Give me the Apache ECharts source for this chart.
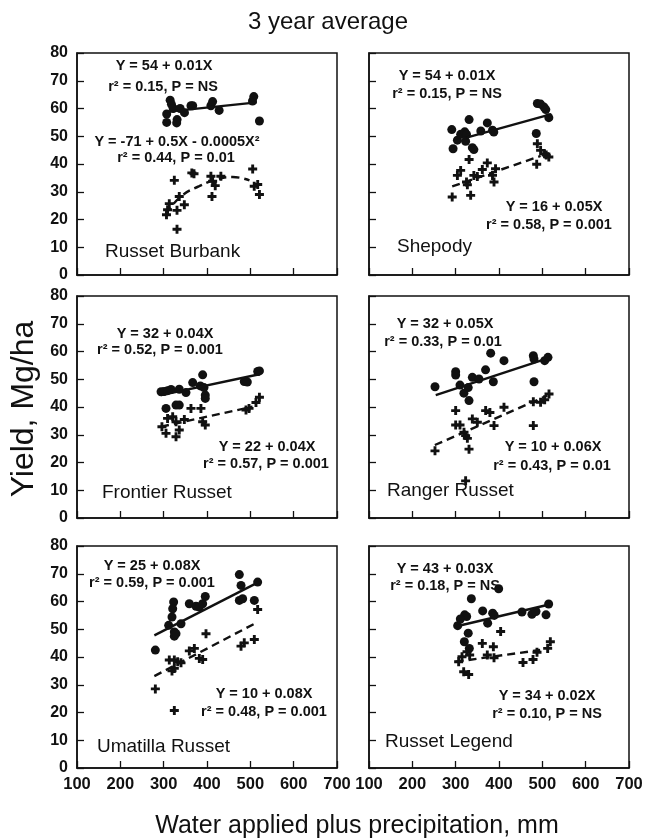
<!DOCTYPE html>
<html>
<head>
<meta charset="utf-8">
<title>3 year average</title>
<script src="https://cdn.jsdelivr.net/npm/echarts@6/dist/echarts.min.js"></script>
<style>
html, body { margin: 0; padding: 0; background: #fff; }
#main { width: 647px; height: 840px; }
</style>
</head>
<body>
<div id="main"></div>
<script>
// axis ticks
var xTicks = [100, 200, 300, 400, 500, 600, 700];
var yTicks = [0, 10, 20, 30, 40, 50, 60, 70, 80];

// Russet Burbank
var burbankDots = [[307,58],[307,55],[315,63],[318,61.5],[322,60],[331,56],[330,54.8],[338,60],[348,58.5],[363,61],[367,61],[409,61],[413,62.5],[428,59.3],[505,62.7],[508,64.3],[521,55.5]];
var burbankCross = [[306.5,21.7],[309,23.5],[313,25.7],[324.6,34.1],[330.8,23.3],[330.8,16.5],[336,28.3],[347.7,25.3],[365,36.8],[370,36.5],[409,35.6],[413,33.8],[419,32.2],[411.5,28.3],[432,35.6],[505.4,38.2],[509,32],[517,32.6],[521,29]];
var burbankFit = [[305,58.8],[515,62.2]];
var burbankDash = [[305,22],[340,28.3],[382,32],[421,34.4],[459,35.3],[498,34.1]];

// Shepody
var shepodyDots = [[291,52.4],[294,45.5],[304,48.6],[311.5,50.7],[321,51.6],[325,50.7],[331,56],[323,48.2],[338.5,45.9],[342,45.2],[358,51.9],[373,54.8],[385,52.2],[388,51.5],[486,51],[488.5,61.8],[496,61.6],[504,60.5],[508,59.6],[515,56.7]];
var shepodyCross = [[292,28.1],[304,35.9],[311.5,37.7],[325,33.5],[327,32.5],[334.6,28.7],[331,41.6],[342,35.9],[350,35.5],[361.5,38],[373,40.4],[385,35.9],[388.5,33.5],[392,38.3],[487,39.9],[488.5,47.3],[496,44.9],[505,43.7],[509,43.2],[515,42.5]];
var shepodyFit = [[325,49.5],[521,58]];
var shepodyDash = [[292,31.9],[496,42.9]];

// Frontier Russet
var frontierDots = [[294,45.5],[301,45.6],[309,45.9],[317,46.3],[336,46.4],[351.5,45.2],[367,48.8],[390,51.6],[384.6,47.6],[393,47],[396,44.3],[396,43.1],[305.4,39.5],[328.5,40.7],[336,40.7],[486,49.2],[493,49],[517,52.8],[521,53]];
var frontierCross = [[296,32.9],[305.4,30.5],[309,35.9],[320.8,36.5],[328.5,34.7],[336,31.7],[328.5,29.3],[347.7,35.5],[363,39.5],[386,39.5],[390,34.7],[396,33.5],[490,38.9],[497,39.5],[513,41.6],[521,43.5]];
var frontierFit = [[294,44.3],[521,51.8]];
var frontierDash = [[294,32.9],[505,40.1]];

// Ranger Russet
var rangerDots = [[252.3,47.3],[300,52.7],[300,51.5],[310,47.9],[319,45],[329,47],[330.8,42.3],[338.5,50.7],[353.8,50.1],[369,53.4],[380.8,59.4],[386.9,49.1],[411.5,56.7],[479.2,58.5],[480.8,57.3],[480.8,49.1],[505.4,56.7],[513,57.9]];
var rangerCross = [[252.3,24.2],[300,38.7],[300,33.5],[310,33.5],[319.2,30.9],[323,29.7],[327,28.7],[330.8,24.8],[323,13.4],[338.5,35.7],[350,34.5],[369.2,38.7],[379,38],[388.5,33.3],[411.5,39.9],[479.2,33.3],[479.2,41.9],[496,41.7],[505.4,42.6],[515.4,44.7]];
var rangerFit = [[254,44.3],[519,57.9]];
var rangerDash = [[252,26.3],[511.5,44.1]];

// Umatilla Russet
var umatillaDots = [[280.8,42.5],[311.5,51.4],[323,59.8],[320.8,57.4],[319.2,54.4],[324.6,49],[324.6,47.5],[328.5,48.4],[340,52],[359.2,59.2],[374.6,58.3],[382.3,58],[396,61.8],[390,59.2],[474.6,69.7],[478.5,65.8],[474.6,60.4],[482.3,61],[509.2,60.4],[516.9,67]];
var umatillaCross = [[280.8,28.5],[324.6,20.7],[313,38.9],[324.6,35.9],[319.2,35],[332.3,38.3],[340,37.9],[324.6,38.9],[359.2,42.2],[370.8,43.1],[382.3,39.5],[390,39.1],[397.7,48.4],[478.5,43.9],[486,45.1],[509.2,46.3],[516.9,57.1]];
var umatillaFit = [[278.5,47.8],[519,67]];
var umatillaDash = [[278.5,33.1],[517,52.6]];

// Russet Legend
var legendDots = [[336.2,61],[320.8,55.2],[325.4,54.6],[304.6,51.3],[310.8,53.7],[329,48.6],[320,45.5],[331.5,43.1],[362.3,56.6],[373.8,52.2],[385.4,55.8],[389,55],[399.2,64.6],[453,56.2],[476,55.4],[485.4,56.4],[508.5,55.2],[514.6,59.1]];
var legendCross = [[306.9,38.3],[314.6,40.1],[326.2,41.9],[332.3,40.7],[318.5,34.7],[330,33.7],[361.5,44.9],[373,40.7],[387,43.7],[388.5,39.7],[403.8,49.2],[455.4,38],[478.5,39.1],[487.7,41.7],[512.3,43.1],[518.5,45.5]];
var legendFit = [[300,51],[521,59.1]];
var legendDash = [[300,38.3],[495,42.5]];

var font = '"Liberation Sans", Arial, Helvetica, sans-serif';
var ink = '#111';
var plus = 'path://M3.4,0H6.6V3.4H10V6.6H6.6V10H3.4V6.6H0V3.4H3.4Z';

var panels = [
    { dots: burbankDots, cross: burbankCross, fit: burbankFit, dash: burbankDash, curve: true },
    { dots: shepodyDots, cross: shepodyCross, fit: shepodyFit, dash: shepodyDash },
    { dots: frontierDots, cross: frontierCross, fit: frontierFit, dash: frontierDash },
    { dots: rangerDots, cross: rangerCross, fit: rangerFit, dash: rangerDash },
    { dots: umatillaDots, cross: umatillaCross, fit: umatillaFit, dash: umatillaDash },
    { dots: legendDots, cross: legendCross, fit: legendFit, dash: legendDash }
];

// equations: text, centre x, middle y
var notes = [
    ['Y = 54 + 0.01X', 164, 66], ['r² = 0.15, P = NS', 163, 87],
    ['Y = -71 + 0.5X - 0.0005X²', 177, 142], ['r² = 0.44, P = 0.01', 176, 158],
    ['Y = 54 + 0.01X', 447, 76], ['r² = 0.15, P = NS', 447, 94],
    ['Y = 16 + 0.05X', 554, 207], ['r² = 0.58, P = 0.001', 549, 225],
    ['Y = 32 + 0.04X', 165, 334], ['r² = 0.52, P = 0.001', 160, 350],
    ['Y = 22 + 0.04X', 267, 447], ['r² = 0.57, P = 0.001', 266, 464],
    ['Y = 32 + 0.05X', 445, 324], ['r² = 0.33, P = 0.01', 443, 342],
    ['Y = 10 + 0.06X', 553, 447], ['r² = 0.43, P = 0.01', 552, 466],
    ['Y = 25 + 0.08X', 152, 566], ['r² = 0.59, P = 0.001', 152, 583],
    ['Y = 10 + 0.08X', 264, 694], ['r² = 0.48, P = 0.001', 264, 712],
    ['Y = 43 + 0.03X', 445, 569], ['r² = 0.18, P = NS', 445, 586],
    ['Y = 34 + 0.02X', 547, 696], ['r² = 0.10, P = NS', 547, 714]
];
var names = [
    ['Russet Burbank', 105, 252], ['Shepody', 397, 247],
    ['Frontier Russet', 102, 493], ['Ranger Russet', 387, 491],
    ['Umatilla Russet', 97, 747], ['Russet Legend', 385, 742]
];

var colX = [77, 369];
var rowY = [53, 296, 546];

var grids = [], xAxes = [], yAxes = [], series = [];
panels.forEach(function(p, i) {
    var col = i % 2, row = Math.floor(i / 2);
    grids.push({
        left: colX[col], top: rowY[row], width: 260, height: 222,
        show: true, borderColor: ink, borderWidth: 1.5
    });
    xAxes.push({
        gridIndex: i, type: 'value',
        min: xTicks[0], max: xTicks[xTicks.length - 1], interval: 100,
        axisLine: { show: true, onZero: false, lineStyle: { color: ink, width: 1.5 } },
        axisTick: { inside: true, length: 7, lineStyle: { color: ink, width: 1.3 } },
        axisLabel: { show: row === 2, margin: 8, fontSize: 16.5, fontWeight: 'bold', color: ink, fontFamily: font },
        splitLine: { show: false }
    });
    yAxes.push({
        gridIndex: i, type: 'value',
        min: yTicks[0], max: yTicks[yTicks.length - 1], interval: 10,
        axisLine: { show: true, onZero: false, lineStyle: { color: ink, width: 1.5 } },
        axisTick: { inside: true, length: 7, lineStyle: { color: ink, width: 1.3 } },
        axisLabel: { show: col === 0, margin: 9, fontSize: 16, fontWeight: 'bold', color: ink, fontFamily: font },
        splitLine: { show: false }
    });
    series.push({
        type: 'line', xAxisIndex: i, yAxisIndex: i, data: p.fit,
        symbol: 'none', lineStyle: { color: ink, width: 2.4 }, silent: true
    });
    series.push({
        type: 'line', xAxisIndex: i, yAxisIndex: i, data: p.dash, smooth: !!p.curve,
        symbol: 'none', lineStyle: { color: ink, width: 2.4, type: [8, 5] }, silent: true
    });
    series.push({
        type: 'scatter', xAxisIndex: i, yAxisIndex: i, data: p.dots,
        symbol: 'circle', symbolSize: 9, itemStyle: { color: ink, opacity: 1 }, silent: true
    });
    series.push({
        type: 'scatter', xAxisIndex: i, yAxisIndex: i, data: p.cross,
        symbol: plus, symbolSize: 9, itemStyle: { color: ink, opacity: 1 }, silent: true
    });
});

var graphic = [];
graphic.push({
    type: 'text', x: 328, y: 22,
    style: { text: '3 year average', font: '24px ' + font, fill: ink, align: 'center', verticalAlign: 'middle' }
});
graphic.push({
    type: 'text', x: 357, y: 826,
    style: { text: 'Water applied plus precipitation, mm', font: '25px ' + font, fill: ink, align: 'center', verticalAlign: 'middle' }
});
graphic.push({
    type: 'text', x: 24, y: 409, rotation: Math.PI / 2,
    style: { text: 'Yield, Mg/ha', font: '32px ' + font, fill: ink, align: 'center', verticalAlign: 'middle' }
});
notes.forEach(function(n) {
    graphic.push({
        type: 'text', x: n[1], y: n[2],
        style: { text: n[0], font: 'bold 14.5px ' + font, fill: ink, align: 'center', verticalAlign: 'middle' }
    });
});
names.forEach(function(n) {
    graphic.push({
        type: 'text', x: n[1], y: n[2],
        style: { text: n[0], font: '19px ' + font, fill: ink, align: 'left', verticalAlign: 'middle' }
    });
});

var myChart = echarts.init(document.getElementById('main'));
myChart.setOption({
    animation: false,
    backgroundColor: '#fff',
    textStyle: { fontFamily: font },
    grid: grids,
    xAxis: xAxes,
    yAxis: yAxes,
    series: series,
    graphic: graphic
});
</script>
</body>
</html>
